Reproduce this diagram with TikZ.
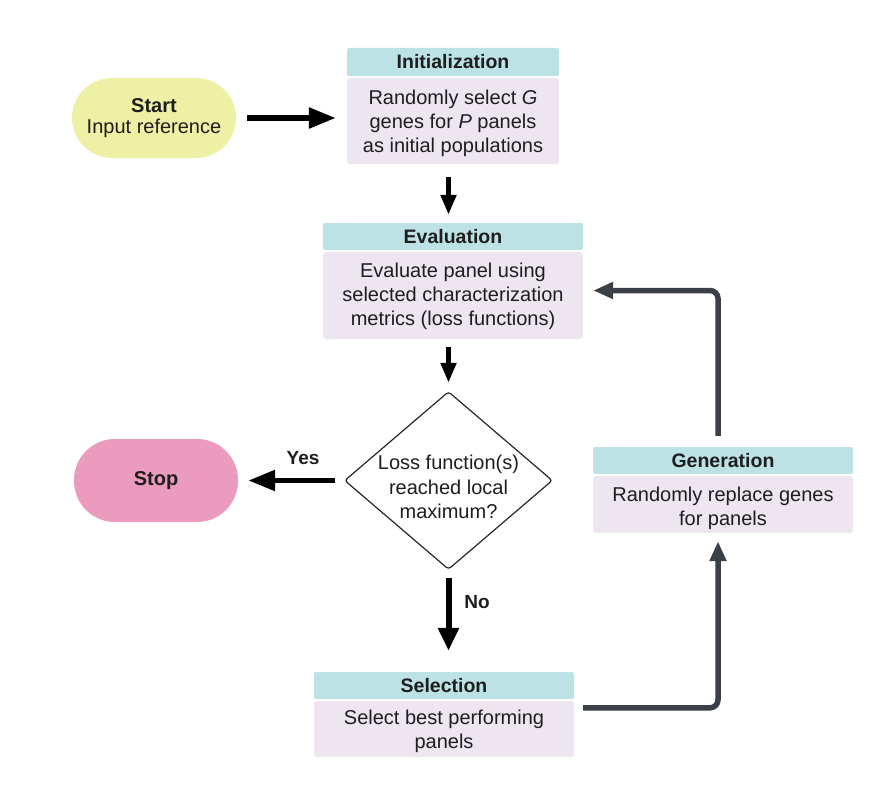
\documentclass[tikz,border=0pt]{standalone}
\usepackage{fontspec}
\setmainfont{Liberation Sans}
\usetikzlibrary{arrows.meta,calc}
\definecolor{hdrc}{HTML}{BDE2E5}
\definecolor{bodyc}{HTML}{EDE6F0}
\definecolor{startc}{HTML}{EEF0A6}
\definecolor{stopc}{HTML}{EB9BBD}
\definecolor{darkc}{HTML}{3B4048}
\definecolor{txtc}{HTML}{1E1E1E}
\begin{document}
\begin{tikzpicture}[x=1pt,y=-1pt,
  hdr/.style={fill=hdrc, rounded corners=2pt, inner sep=0pt, text=txtc,
    font=\bfseries\fontsize{19.5}{23}\selectfont},
  bodyb/.style={fill=bodyc, rounded corners=3pt, inner sep=0pt},
  term/.style={inner sep=0pt, align=center, text=txtc, font=\fontsize{20}{21}\selectfont},
  txt/.style={inner sep=0pt, align=center, text=txtc, font=\fontsize{20}{24.3}\selectfont},
  lbl/.style={inner sep=0pt, text=txtc, font=\bfseries\fontsize{19}{22}\selectfont},
  diad/.style={draw=black!85, line width=1.2pt, rounded corners=3pt},
  barr/.style={draw=black, line width=5.5pt, -{Triangle[length=27pt,width=20pt]}},
  sarr/.style={draw=black, line width=5pt, -{Triangle[length=20pt,width=15pt]}},
  narr/.style={draw=black, line width=6pt, -{Triangle[length=23pt,width=20pt]}},
  garr/.style={draw=darkc, line width=5.5pt, rounded corners=8pt, -{Triangle[length=20pt,width=16pt]}}
]
\fill[white] (0,0) rectangle (878,792);
\useasboundingbox (0,0) rectangle (878,792);

\node[term, fill=startc, minimum width=164pt, minimum height=80pt, rounded corners=40pt] (start) at (154,118) {\textbf{Start}\\Input reference};

\node[hdr, minimum width=212pt, minimum height=28pt] (inith) at (453,62) {Initialization};
\node[bodyb, minimum width=212pt, minimum height=86pt] (initb) at (453,121) {};
\node[txt] (initt) at (453,123.5) {Randomly select \textit{G}\\genes for \textit{P} panels\\as initial populations};

\node[hdr, minimum width=260pt, minimum height=27pt] (evalh) at (453,236.5) {Evaluation};
\node[bodyb, minimum width=260pt, minimum height=87pt] (evalb) at (453,295.5) {};
\node[txt] (evalt) at (453,296.5) {Evaluate panel using\\selected characterization\\metrics (loss functions)};

\node[minimum width=207pt, minimum height=177pt, inner sep=0pt] (dia) at (448.5,480.5) {};
\draw[diad] (dia.north) -- (dia.east) -- (dia.south) -- (dia.west) -- cycle;
\node[txt] (diat) at (448.5,487) {Loss function(s)\\reached local\\maximum?};

\node[term, fill=stopc, minimum width=164pt, minimum height=83pt, rounded corners=41pt] (stop) at (156,480.5) {\textbf{Stop}};

\node[hdr, minimum width=260pt, minimum height=27pt] (selh) at (444,685.5) {Selection};
\node[bodyb, minimum width=260pt, minimum height=56pt] (selb) at (444,729) {};
\node[txt] (selt) at (444,731.5) {Select best performing\\panels};

\node[hdr, minimum width=260pt, minimum height=27pt] (genh) at (723,460.5) {Generation};
\node[bodyb, minimum width=260pt, minimum height=57pt] (genb) at (723,504.5) {};
\node[txt] (gent) at (723,508.5) {Randomly replace genes\\for panels};

\draw[barr, shorten <=11pt, shorten >=11pt] (start.east) -- (initb.west |- start.east);
\draw[sarr, shorten <=13pt, shorten >=8pt] (initb.south -| dia.center) -- (evalh.north -| dia.center);
\draw[sarr, shorten <=8pt, shorten >=9pt] (evalb.south -| dia.center) -- (dia.north);
\draw[barr, shorten <=10pt, shorten >=10pt] (dia.west) -- (stop.east |- dia.west);
\node[lbl] (yes) at (303,458) {Yes};
\draw[narr, shorten <=9pt, shorten >=21pt] (dia.south) -- (selh.north -| dia.south);
\node[lbl] (no) at (477,602) {No};
\draw[garr] ($(selb.north east)+(9,7)$) -| ($(genb.south)+(-5,8)$);
\draw[garr] ($(genh.north)+(-5,-11)$) |- ($(evalb.east)+(10,-5)$);
\end{tikzpicture}
\end{document}
